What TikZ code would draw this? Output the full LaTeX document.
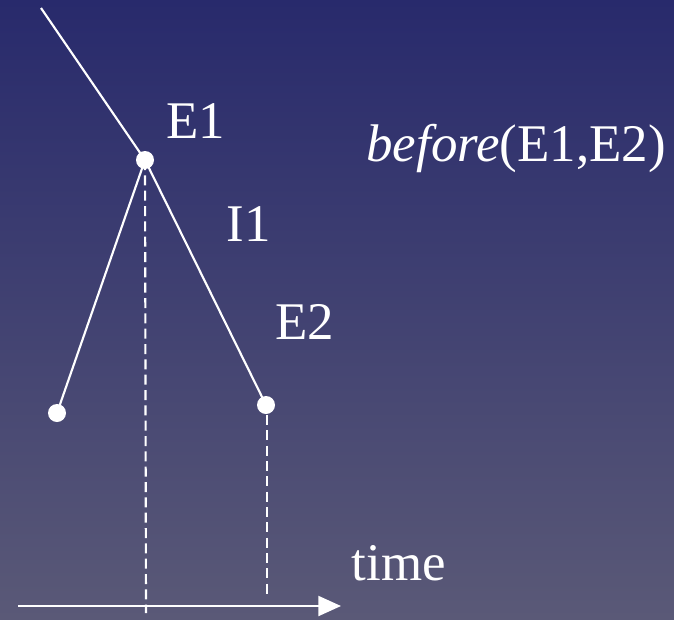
\documentclass[tikz,border=0pt]{standalone}
\usepackage{fontspec}
\setmainfont{Liberation Serif}
\usetikzlibrary{arrows.meta}
\definecolor{topc}{HTML}{282A6C}
\definecolor{botc}{HTML}{5A5977}
\begin{document}
\begin{tikzpicture}[x=0.75pt,y=-0.75pt,
  dotn/.style={circle,fill=white,inner sep=0pt,minimum size=13.5pt},
  ln/.style={draw=white,line width=1.6pt},
  dsh/.style={draw=white,line width=1.6pt,dash pattern=on 7.5pt off 4pt},
  lbl/.style={text=white,font=\fontsize{39.7}{46}\selectfont,inner sep=0pt}]
\shade[top color=topc,bottom color=botc] (0,0) rectangle (674,619);
\useasboundingbox (0,0) rectangle (674,619);
\coordinate (s) at (41,8);
\node[dotn] (e1) at (145,160) {};
\node[dotn] (l) at (57,413) {};
\node[dotn] (e2) at (266,405) {};
\coordinate (d1) at (146,613);
\coordinate (d2) at (267,598);
\coordinate (a0) at (18,606);
\coordinate (a1) at (341,606);
\draw[ln] (s) -- (e1.center);
\draw[ln] (e1.center) -- (l.center);
\draw[ln] (e1.center) -- (e2.center);
\draw[dsh] (e1.center) -- (d1);
\draw[dsh] (e2.center) ++(1,10) -- (d2);
\draw[ln,-{Triangle[length=17pt,width=15pt]}] (a0) -- (a1);
\node[lbl] (te1) at (196,121) {E1};
\node[lbl] (tb) at (516,148) {\textit{before}(E1,E2)};
\node[lbl] (ti1) at (249,224) {I1};
\node[lbl] (te2) at (305,322) {E2};
\node[lbl] (tt) at (399,563) {time};
\end{tikzpicture}
\end{document}
